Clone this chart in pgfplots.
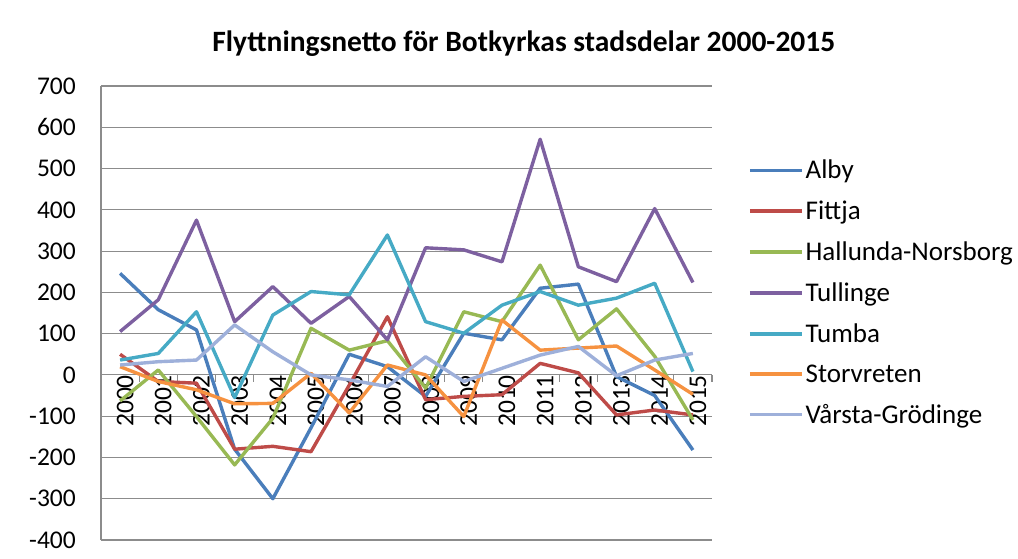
\documentclass[border=0pt]{standalone}
\usepackage{fontspec}
\setmainfont{Carlito}
\usepackage{pgfplots}
\usepackage{pgfplotstable}
\pgfplotsset{compat=1.18}
\definecolor{alby}{HTML}{4A7EBB}
\definecolor{fittja}{HTML}{BE4B48}
\definecolor{hallunda}{HTML}{98B954}
\definecolor{tullinge}{HTML}{7D60A0}
\definecolor{tumba}{HTML}{46AAC5}
\definecolor{storvreten}{HTML}{F69240}
\definecolor{varsta}{HTML}{9EB0DA}
\definecolor{gridgray}{HTML}{8C8C8C}
\pgfplotstableread{
x Alby Fittja Hallunda Tullinge Tumba Storvreten Varsta
0 246 50 -63 105 36 20 24
1 158 -16 12 182 52 -16 32
2 109 -20 -101 375 153 -36 36
3 -180 -180 -218 129 -55 -70 121
4 -300 -173 -105 214 145 -69 56
5 -128 -186 113 125 202 4 0
6 50 -25 60 190 194 -92 -12
7 20 141 83 85 339 24 -28
8 -52 -60 -32 308 129 0 44
9 101 -52 153 303 101 -101 -16
10 85 -48 129 274 169 133 16
11 210 28 266 571 202 60 48
12 220 5 85 262 169 65 69
13 -4 -97 160 226 186 70 -2
14 -50 -85 45 403 222 12 36
15 -182 -97 -109 224 8 -47 52
}\datatable
\begin{document}
\begin{tikzpicture}
\useasboundingbox (0,0) rectangle (1018pt,558pt);
\begin{axis}[
  at={(101pt,18pt)}, anchor=south west,
  scale only axis, width=611pt, height=454pt,
  xmin=-0.5, xmax=15.5, ymin=-400, ymax=700,
  axis x line=middle, axis y line=left,
  axis line style={-, draw=gridgray, line width=1.1pt},
  xtick={0,...,15},
  xticklabels={2000,2001,2002,2003,2004,2005,2006,2007,2008,2009,2010,2011,2012,2013,2014,2015},
  minor xtick={-0.5,0.5,...,15.5},
  ytick={-400,-300,...,700},
  yticklabels={-400,-300,-200,-100,0,100,200,300,400,500,600,700},
  ymajorgrids,
  major grid style={draw=gridgray, line width=1.1pt},
  major tick length=0pt,
  minor tick length=7pt,
  tick align=outside,
  minor tick style={draw=gridgray, line width=1.1pt},
  tick label style={font=\fontsize{25.5}{30}\selectfont},
  xticklabel style={rotate=90, anchor=east, inner sep=0pt, yshift=-5pt},
  yticklabel style={anchor=east, inner sep=0pt, xshift=-25pt},
  title={Flyttningsnetto för Botkyrkas stadsdelar 2000-2015},
  title style={at={(0.692,1.08)}, anchor=center, font=\bfseries\fontsize{29.5}{34}\selectfont},
  legend style={at={(1.059,0.545)}, anchor=west, draw=none, fill=none, inner sep=0pt,
    font=\fontsize{27}{32}\selectfont, row sep=16.7pt},
  legend cell align=left,
  legend image code/.code={\draw[#1, line width=3.4pt] (-2pt,0pt) -- (50pt,0pt);},
  every axis plot/.append style={line width=3.4pt, line join=round, no markers},
  clip=false,
]
\addplot[alby] table[x=x, y=Alby] {\datatable};
\addlegendentry{Alby}
\addplot[fittja] table[x=x, y=Fittja] {\datatable};
\addlegendentry{Fittja}
\addplot[hallunda] table[x=x, y=Hallunda] {\datatable};
\addlegendentry{Hallunda-Norsborg}
\addplot[tullinge] table[x=x, y=Tullinge] {\datatable};
\addlegendentry{Tullinge}
\addplot[tumba] table[x=x, y=Tumba] {\datatable};
\addlegendentry{Tumba}
\addplot[storvreten] table[x=x, y=Storvreten] {\datatable};
\addlegendentry{Storvreten}
\addplot[varsta] table[x=x, y=Varsta] {\datatable};
\addlegendentry{Vårsta-Grödinge}
\end{axis}
\end{tikzpicture}
\end{document}
